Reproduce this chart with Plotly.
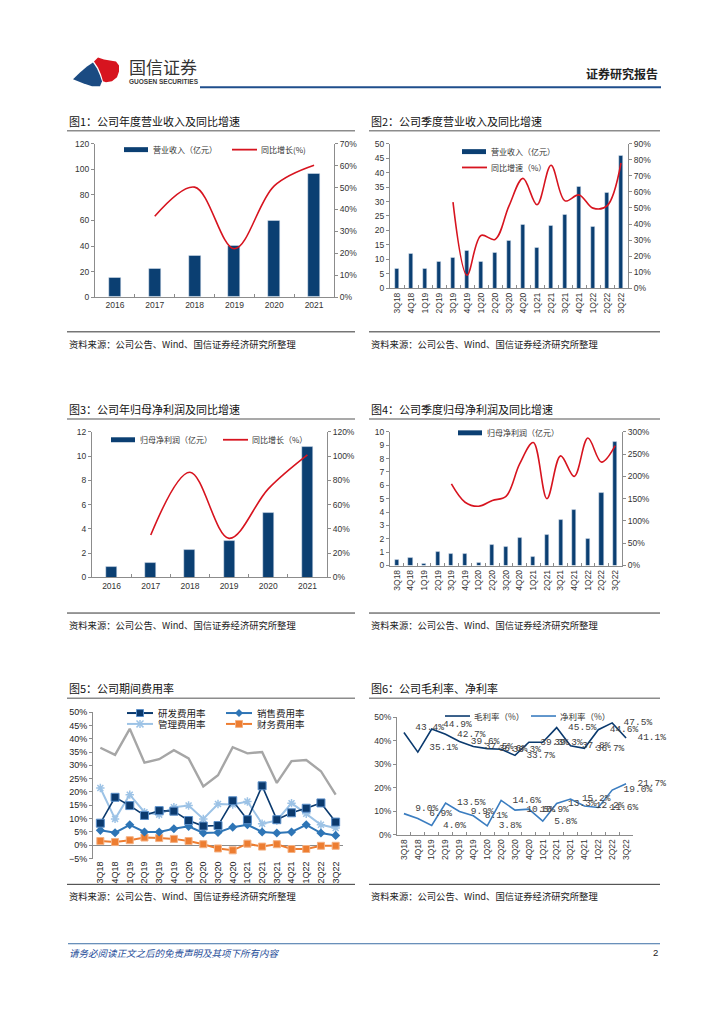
import plotly.graph_objects as go

# the page body has an 8px default margin: the figure is sized to fit the window after it
OFF = 8
W, H = 724 - OFF, 1024 - OFF
def fx(px): return (px - OFF) / W
def fy(py): return 1 - (py - OFF) / H

# ---------------- data ----------------
years = ["2016", "2017", "2018", "2019", "2020", "2021"]
rev_annual = [15.5, 21.9, 32.8, 40.0, 60.1, 96.3]
rev_annual_yoy = [None, 36.9, 50.2, 22.1, 50.8, 60.2]

quarters = ["3Q18", "4Q18", "1Q19", "2Q19", "3Q19", "4Q19", "1Q20", "2Q20", "3Q20",
            "4Q20", "1Q21", "2Q21", "3Q21", "4Q21", "1Q22", "2Q22", "3Q22"]
rev_q = [6.9, 12.1, 6.9, 9.1, 10.6, 12.9, 9.1, 12.3, 16.4, 22.0, 13.9, 21.7, 25.5, 35.0, 21.2, 32.9, 45.7]
rev_q_yoy = [None, None, None, None, 53.6, 8.2, 32.9, 30.4, 51.3, 68.4, 52.0, 76.6, 54.4, 58.1, 49.9, 51.3, 78.0]

np_annual = [0.87, 1.23, 2.26, 3.05, 5.34, 10.76]
np_annual_yoy = [None, 34.9, 86.7, 32.2, 73.0, 101.0]

np_q = [0.42, 0.6, 0.1, 1.02, 0.84, 0.84, 0.2, 1.53, 1.39, 2.08, 0.67, 2.33, 3.42, 4.16, 2.0, 5.45, 9.26]
np_q_yoy = [None, None, None, None, 183, 142, 133, 146, 155, 228, 276, 150, 246, 200, 286, 232, 269]

exp_total = [36.6, 33.9, 43.7, 31.0, 32.3, 35.7, 32.6, 22.1, 26.3, 36.8, 34.5, 35.0, 23.4, 31.6, 32.0, 27.8, 19.0]
rd_rate = [8.3, 18.0, 14.9, 11.2, 13.0, 12.8, 9.3, 7.2, 7.4, 16.7, 9.6, 22.3, 9.6, 12.2, 13.9, 15.9, 8.7]
sales_rate = [5.6, 4.7, 7.7, 5.0, 5.0, 6.2, 7.1, 4.6, 4.8, 6.8, 7.7, 5.0, 4.6, 5.0, 7.7, 4.6, 3.7]
admin_rate = [21.5, 9.9, 19.0, 12.4, 11.5, 14.3, 14.9, 9.9, 15.5, 15.3, 16.4, 8.1, 9.3, 15.8, 11.8, 7.7, 6.5]
fin_rate = [1.6, 1.2, 1.9, 2.9, 2.7, 2.4, 1.6, 0.4, -1.2, -1.9, 0.6, -0.5, 0.4, -1.4, -1.4, -0.2, -0.2]

gross_margin = [43.4, 35.1, 44.9, 42.7, 39.6, 37.5, 36.6, 36.3, 33.7, 39.3, 39.3, 45.5, 37.8, 36.7, 44.6, 47.5, 41.1]
net_margin = [9.0, 6.9, 4.0, 13.5, 9.9, 8.1, 3.8, 14.6, 10.5, 10.9, 5.8, 13.3, 15.2, 12.2, 11.6, 19.0, 21.7]

# ---------------- styles ----------------
NAVY = "#0b3f72"
RED = "#d7141f"
TICKF = dict(family="Liberation Sans, Arial", size=8.5, color="#333333")
CJK = "Noto Sans CJK SC"
AXC = "#8c8c8c"
LBLF = dict(family="Liberation Mono, DejaVu Sans Mono", size=9.5, color="#404040")
C_RD, C_SALES, C_ADMIN, C_FIN, C_TOTAL = "#0b3a6e", "#2e75b6", "#9dc3e6", "#ed7d31", "#a6a6a6"
C_GM, C_NM = "#0b3a6e", "#3b7dc0"

fig = go.Figure()

spl = dict(width=1.6, shape="spline", smoothing=1.0)
# Chart 1
fig.add_trace(go.Bar(x=years, y=rev_annual, marker_color=NAVY, width=0.3, xaxis="x", yaxis="y"))
fig.add_trace(go.Scatter(x=years, y=rev_annual_yoy, mode="lines", line=dict(color=RED, **spl), xaxis="x", yaxis="y2"))
# Chart 2
fig.add_trace(go.Bar(x=quarters, y=rev_q, marker_color=NAVY, width=0.3, xaxis="x2", yaxis="y3"))
fig.add_trace(go.Scatter(x=quarters, y=rev_q_yoy, mode="lines", line=dict(color=RED, **spl), xaxis="x2", yaxis="y4"))
# Chart 3
fig.add_trace(go.Bar(x=years, y=np_annual, marker_color=NAVY, width=0.28, xaxis="x3", yaxis="y5"))
fig.add_trace(go.Scatter(x=years, y=np_annual_yoy, mode="lines", line=dict(color=RED, **spl), xaxis="x3", yaxis="y6"))
# Chart 4
fig.add_trace(go.Bar(x=quarters, y=np_q, marker_color=NAVY, width=0.3, xaxis="x4", yaxis="y7"))
fig.add_trace(go.Scatter(x=quarters, y=np_q_yoy, mode="lines", line=dict(color=RED, **spl), xaxis="x4", yaxis="y8"))
# Chart 5
fig.add_trace(go.Scatter(x=quarters, y=exp_total, mode="lines", line=dict(color=C_TOTAL, width=2.4), xaxis="x5", yaxis="y9"))
fig.add_trace(go.Scatter(x=quarters, y=admin_rate, mode="lines+markers", name="管理费用率",
                         line=dict(color=C_ADMIN, width=2),
                         marker=dict(symbol="asterisk-open", size=7, color=C_ADMIN, line=dict(width=1.5, color=C_ADMIN)),
                         xaxis="x5", yaxis="y9"))
fig.add_trace(go.Scatter(x=quarters, y=fin_rate, mode="lines+markers", name="财务费用率",
                         line=dict(color=C_FIN, width=2),
                         marker=dict(symbol="square", size=7, color=C_FIN, line=dict(width=1, color="#f4b183")),
                         xaxis="x5", yaxis="y9"))
fig.add_trace(go.Scatter(x=quarters, y=sales_rate, mode="lines+markers", name="销售费用率",
                         line=dict(color=C_SALES, width=2), marker=dict(symbol="diamond", size=7, color=C_SALES),
                         xaxis="x5", yaxis="y9"))
fig.add_trace(go.Scatter(x=quarters, y=rd_rate, mode="lines+markers", name="研发费用率",
                         line=dict(color=C_RD, width=1.6),
                         marker=dict(symbol="square", size=8, color=C_RD, line=dict(width=1, color="#5b8fc9")),
                         xaxis="x5", yaxis="y9"))
# Chart 6
NB = "\u00a0\u00a0"
gm_pos = ["top right", "top right", "top right"] + ["middle right"] * 14
nm_pos = ["top right", "top right"] + ["middle right"] * 15
fig.add_trace(go.Scatter(x=quarters, y=gross_margin, mode="lines+text", name="毛利率（%）",
                         text=[NB + f"{v:.1f}%" for v in gross_margin], textposition=gm_pos, textfont=LBLF,
                         cliponaxis=False, line=dict(color=C_GM, width=1.6), xaxis="x6", yaxis="y10"))
fig.add_trace(go.Scatter(x=quarters, y=net_margin, mode="lines+text", name="净利率（%）",
                         text=[NB + f"{v:.1f}%" for v in net_margin], textposition=nm_pos, textfont=LBLF,
                         cliponaxis=False, line=dict(color=C_NM, width=1.6), xaxis="x6", yaxis="y10"))

# ---------------- axes ----------------
def xcat(x0, x1, y_anchor, angle=0, n=None, ticks="inside", showline=True):
    d = dict(domain=[fx(x0), fx(x1)], anchor=y_anchor, type="category", tickfont=TICKF, tickangle=angle,
             showline=showline, linecolor=AXC, linewidth=1, ticks=ticks, ticklen=3, tickcolor=AXC,
             tickson="boundaries", showgrid=False, zeroline=False, fixedrange=True)
    if n is not None:
        d["range"] = [-0.5, n - 0.5]
    return d

def yax(y0, y1, x_anchor, rng, dtick, side="left", overlay=None, suffix=""):
    d = dict(domain=[fy(y1), fy(y0)], anchor=x_anchor, range=rng, dtick=dtick, tick0=0, tickfont=TICKF,
             showline=True, linecolor=AXC, linewidth=1, ticks="outside", ticklen=3, tickcolor=AXC,
             showgrid=False, zeroline=False, side=side, ticksuffix=suffix, fixedrange=True)
    if overlay:
        d["overlaying"] = overlay
        d.pop("domain")
    return d

layout = dict(
    width=W, height=H, margin=dict(l=0, r=0, t=0, b=0),
    paper_bgcolor="white", plot_bgcolor="rgba(0,0,0,0)",
    font=dict(family=CJK, color="#222222"),
    showlegend=False, bargap=0,
    xaxis=xcat(95, 334, "y"),
    yaxis=yax(140, 295, "x", [0, 120], 20),
    yaxis2=yax(140, 295, "x", [0, 70], 10, side="right", overlay="y", suffix="%"),
    xaxis2=xcat(390, 628, "y3", angle=-90),
    yaxis3=yax(140, 286, "x2", [0, 50], 5),
    yaxis4=yax(140, 286, "x2", [0, 90], 10, side="right", overlay="y3", suffix="%"),
    xaxis3=xcat(92, 327, "y5"),
    yaxis5=yax(431, 578, "x3", [0, 12], 2),
    yaxis6=yax(431, 578, "x3", [0, 120], 20, side="right", overlay="y5", suffix="%"),
    xaxis4=xcat(390, 622, "y7", angle=-90),
    yaxis7=yax(431, 566, "x4", [0, 10], 1),
    yaxis8=yax(431, 566, "x4", [0, 300], 50, side="right", overlay="y7", suffix="%"),
    xaxis5=xcat(93, 343, "y9", angle=-90, n=17, ticks="", showline=False),
    yaxis9=yax(714, 862, "x5", [-5, 50], 5, suffix="%"),
    xaxis6=xcat(397, 633, "y10", angle=-90, n=17, ticks="inside"),
    yaxis10=yax(719, 838, "x6", [0, 50], 10, suffix="%"),
)
layout["xaxis5"]["tickfont"] = dict(family="Liberation Sans, Arial", size=9, color="#222")
layout["yaxis9"]["tickfont"] = dict(family="Liberation Sans, Arial", size=9, color="#222")
layout["yaxis9"]["zeroline"] = True
layout["yaxis9"]["zerolinecolor"] = AXC
layout["yaxis9"]["zerolinewidth"] = 1
fig.update_layout(**layout)

shapes = []
ann = []

def text(x, y, s, size=10, color="#222", family=CJK, xanchor="left", bold=False, italic=False):
    if bold:
        s = "<b>" + s + "</b>"
    if italic:
        s = "<i>" + s + "</i>"
    ann.append(dict(x=fx(x), y=fy(y), xref="paper", yref="paper", text=s, showarrow=False,
                    xanchor=xanchor, yanchor="middle", font=dict(size=size, color=color, family=family)))

def seg(x0, y0, x1, y1, color, width):
    shapes.append(dict(type="line", xref="paper", yref="paper", x0=fx(x0), x1=fx(x1), y0=fy(y0), y1=fy(y1),
                       line=dict(color=color, width=width)))

def hline(x0, x1, y, color, width):
    seg(x0, y, x1, y, color, width)

def rect(x0, x1, y0, y1, color, edge=None):
    shapes.append(dict(type="rect", xref="paper", yref="paper", x0=fx(x0), x1=fx(x1), y0=fy(y1), y1=fy(y0),
                       fillcolor=color, line=dict(width=1 if edge else 0, color=edge or color)))

def path(pts):
    return "M " + " L ".join(f"{fx(x):.5f},{fy(y):.5f}" for x, y in pts) + " Z"

# header
shapes.append(dict(type="path", xref="paper", yref="paper", fillcolor="#d7141f", line=dict(width=0),
                   path=path([(94, 57), (98, 53), (104, 55), (110, 56), (116, 57), (119, 61), (119, 67),
                              (117, 73), (112, 77), (106, 78), (103, 77), (101, 70), (98, 63)])))
shapes.append(dict(type="path", xref="paper", yref="paper", fillcolor="#1b4b82", line=dict(width=0),
                   path=path([(73, 75), (80, 68), (87, 62), (93, 58), (97, 64), (100, 71), (102, 77),
                              (100, 82), (92, 82), (83, 79)])))
text(127, 62, "国信证券", size=17, color="#333333")
text(127, 77, "GUOSEN SECURITIES", size=6.5, color="#3a3a3a", family="Liberation Sans, Arial", bold=True)
text(660, 69, "证券研究报告", size=12, color="#222", xanchor="right", bold=True)
hline(200, 661, 83, "#1f4e8c", 2.2)

# titles and sources
titles = [(68, 117, "图1：公司年度营业收入及同比增速"), (370, 117, "图2：公司季度营业收入及同比增速"),
          (68, 408, "图3：公司年归母净利润及同比增速"), (370, 408, "图4：公司季度归母净利润及同比增速"),
          (68, 690, "图5：公司期间费用率"), (370, 690, "图6：公司毛利率、净利率")]
for x, y, s in titles:
    text(x - 1, y, s, size=11, color="#111")
    hline(x - 1, x + 287 if x < 200 else 660, y + 10, "#8c8c8c", 1.5)
src = "资料来源：公司公告、Wind、国信证券经济研究所整理"
for y in (342, 626, 900):
    for x in (68, 370):
        text(x - 1, y, src, size=9.3, color="#222")
        hline(x - 1, x + 287 if x < 200 else 660, y - 12, "#333", 1)

# footer
hline(68, 660, 948, "#3b6ea5", 1)
text(67, 957, "请务必阅读正文之后的免责声明及其项下所有内容", size=9.5, color="#1f4e9a", italic=True)
text(660, 957, "2", size=9.5, color="#222", xanchor="right", family="Liberation Sans, Arial")

# legends (drawn as decorations)
def bar_leg(x, y, label):
    rect(x, x + 24, y - 2.5, y + 2.5, NAVY)
    text(x + 27, y, label, size=8, color="#333")
def line_leg(x, y, label, color=RED, width=1.8, size=8):
    hline(x, x + 25, y, color, width)
    text(x + 27, y, label, size=size, color="#333")

bar_leg(124, 146, "营业收入（亿元）")
line_leg(232, 146, "同比增长(%)")
bar_leg(462, 148, "营业收入（亿元）")
line_leg(462, 164, "同比增速（%）")
bar_leg(111, 439, "归母净利润（亿元）")
line_leg(223, 439, "同比增长（%）")
bar_leg(458, 432, "归母净利润（亿元）")
line_leg(445, 718, "毛利率（%）", C_GM, 1.6, 8.5)
line_leg(531, 718, "净利率（%）", C_NM, 1.6, 8.5)

# chart 5 legend: line + marker glyphs
def leg5(x, y, label, color, marker):
    hline(x, x + 26, y, color, 2)
    cx = x + 13
    if marker == "square_rd":
        rect(cx - 3.5, cx + 3.5, y - 3.5, y + 3.5, C_RD, "#5b8fc9")
    elif marker == "square_fin":
        rect(cx - 3.5, cx + 3.5, y - 3.5, y + 3.5, C_FIN, "#f4b183")
    elif marker == "diamond":
        shapes.append(dict(type="path", xref="paper", yref="paper", fillcolor=color, line=dict(width=0),
                           path=path([(cx, y - 4), (cx + 4, y), (cx, y + 4), (cx - 4, y)])))
    elif marker == "asterisk":
        seg(cx - 3.5, y - 3.5, cx + 3.5, y + 3.5, color, 1.5)
        seg(cx - 3.5, y + 3.5, cx + 3.5, y - 3.5, color, 1.5)
        seg(cx, y - 4, cx, y + 4, color, 1.5)
    text(x + 29, y, label, size=9.5, color="#222")

leg5(127, 715, "研发费用率", C_RD, "square_rd")
leg5(226, 715, "销售费用率", C_SALES, "diamond")
leg5(127, 726, "管理费用率", C_ADMIN, "asterisk")
leg5(226, 726, "财务费用率", C_FIN, "square_fin")

fig.update_layout(shapes=shapes, annotations=ann)
fig.write_html("out.html")
